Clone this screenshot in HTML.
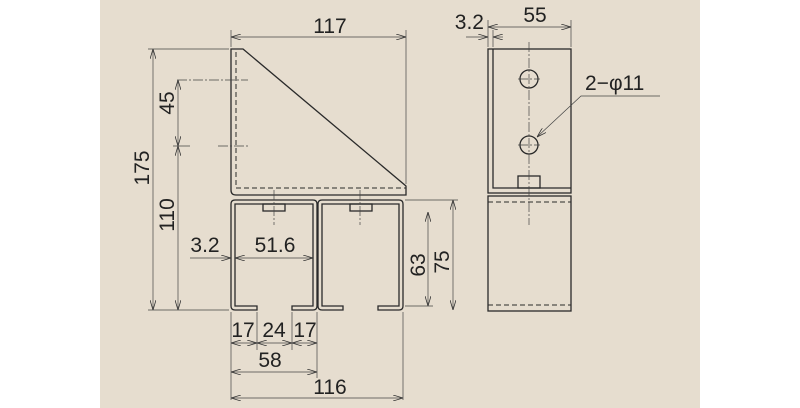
<!DOCTYPE html>
<html><head><style>
body{margin:0;background:#fff}
svg{display:block}
text{font-family:"Liberation Sans",sans-serif;font-size:21px;fill:#222}
</style></head><body>
<svg width="800" height="408" viewBox="0 0 800 408">
<defs>
<marker id="a" markerWidth="10" markerHeight="6" refX="10" refY="3" orient="auto-start-reverse" markerUnits="userSpaceOnUse"><path d="M0,0 L10,3 L0,6" fill="none" stroke="#333" stroke-width="0.8"/></marker>
</defs>
<rect x="100" y="0" width="600" height="408" fill="#e6ddcf"/>
<g fill="none" stroke="#2a2a2a" stroke-width="1.3">
<path d="M243,49 L231,49 L231,190 Q231,195 236,195 L406,195 L406,186 Z M243,49 L406,186"/>
<path d="M236,52 V188 H406" stroke-dasharray="5,3" stroke-width="1"/>
<path d="M257,310 H235 Q231,310 231,306 V204 Q231,200 235,200 H313 Q317,200 317,204 V306 Q317,310 313,310 H292 V306 H313 V204 H235 V306 H257 Z"/>
<path d="M343,310 H322 Q318,310 318,306 V204 Q318,200 322,200 H399 Q403,200 403,204 V306 Q403,310 399,310 H378 V306 H399 V204 H322 V306 H343 Z"/>
<rect x="263" y="204" width="22" height="7"/>
<rect x="350" y="204" width="22" height="7"/>
<rect x="488" y="49" width="83" height="144"/>
<path d="M493,49 V188 H571"/>
<rect x="488" y="196" width="83" height="115"/>
<path d="M488,202 H571 M488,305 H571" stroke-dasharray="5,3" stroke-width="1"/>
<circle cx="529" cy="79" r="9"/><circle cx="529" cy="145" r="9"/>
<rect x="518" y="176" width="22" height="12"/>
</g>
<g fill="none" stroke="#444" stroke-width="0.7">
<path d="M529,42 V225 M518,79 H540 M518,145 H540" stroke-dasharray="10,2,2,2"/>
<path d="M274,190 V225 M360,190 V225" stroke-dasharray="10,2,2,2"/>
<path d="M177,80 H248 M218,146 H248" stroke-dasharray="10,2,2,2"/>
<path d="M231,30 V47 M406,30 V184 M148,49 H229 M148,310 H229 M173,146 H190 M405,200 H458 M405,306 H433"/>
<path d="M231,312 V400 M257,312 V350 M292,312 V350 M317,312 V378 M403,312 V400"/>
<path d="M488,20 V47 M571,20 V47 M493,30 V47"/>
<path d="M231,37 H406" marker-start="url(#a)" marker-end="url(#a)"/>
<path d="M153,49 V310" marker-start="url(#a)" marker-end="url(#a)"/>
<path d="M178,80 V146" marker-start="url(#a)" marker-end="url(#a)"/>
<path d="M178,146 V310" marker-start="url(#a)" marker-end="url(#a)"/>
<path d="M428,212 V306" marker-start="url(#a)" marker-end="url(#a)"/>
<path d="M453,200 V310" marker-start="url(#a)" marker-end="url(#a)"/>
<path d="M190,258 H231" marker-end="url(#a)"/>
<path d="M235,258 H313" marker-start="url(#a)" marker-end="url(#a)"/>
<path d="M231,343 H257" marker-start="url(#a)" marker-end="url(#a)"/>
<path d="M257,343 H292" marker-start="url(#a)" marker-end="url(#a)"/>
<path d="M292,343 H317" marker-start="url(#a)" marker-end="url(#a)"/>
<path d="M231,372 H317" marker-start="url(#a)" marker-end="url(#a)"/>
<path d="M231,398 H403" marker-start="url(#a)" marker-end="url(#a)"/>
<path d="M488,27 H571" marker-start="url(#a)" marker-end="url(#a)"/>
<path d="M466,37 H488" marker-end="url(#a)"/>
<path d="M503,37 H493" marker-end="url(#a)"/>
<path d="M660,96 H581 L537,137" marker-end="url(#a)"/>
</g>
<text x="330" y="33" text-anchor="middle">117</text>
<text x="535" y="22" text-anchor="middle">55</text>
<text x="484" y="29" text-anchor="end">3.2</text>
<text x="585" y="90">2−φ11</text>
<text x="205" y="252" text-anchor="middle">3.2</text>
<text x="275" y="252" text-anchor="middle">51.6</text>
<text x="243" y="337" text-anchor="middle">17</text>
<text x="274" y="337" text-anchor="middle">24</text>
<text x="305" y="337" text-anchor="middle">17</text>
<text x="270" y="367" text-anchor="middle">58</text>
<text x="330" y="394" text-anchor="middle">116</text>
<text transform="translate(149,168) rotate(-90)" text-anchor="middle">175</text>
<text transform="translate(174,103) rotate(-90)" text-anchor="middle">45</text>
<text transform="translate(174,215) rotate(-90)" text-anchor="middle">110</text>
<text transform="translate(425,265) rotate(-90)" text-anchor="middle">63</text>
<text transform="translate(449,262) rotate(-90)" text-anchor="middle">75</text>
</svg>
</body></html>
